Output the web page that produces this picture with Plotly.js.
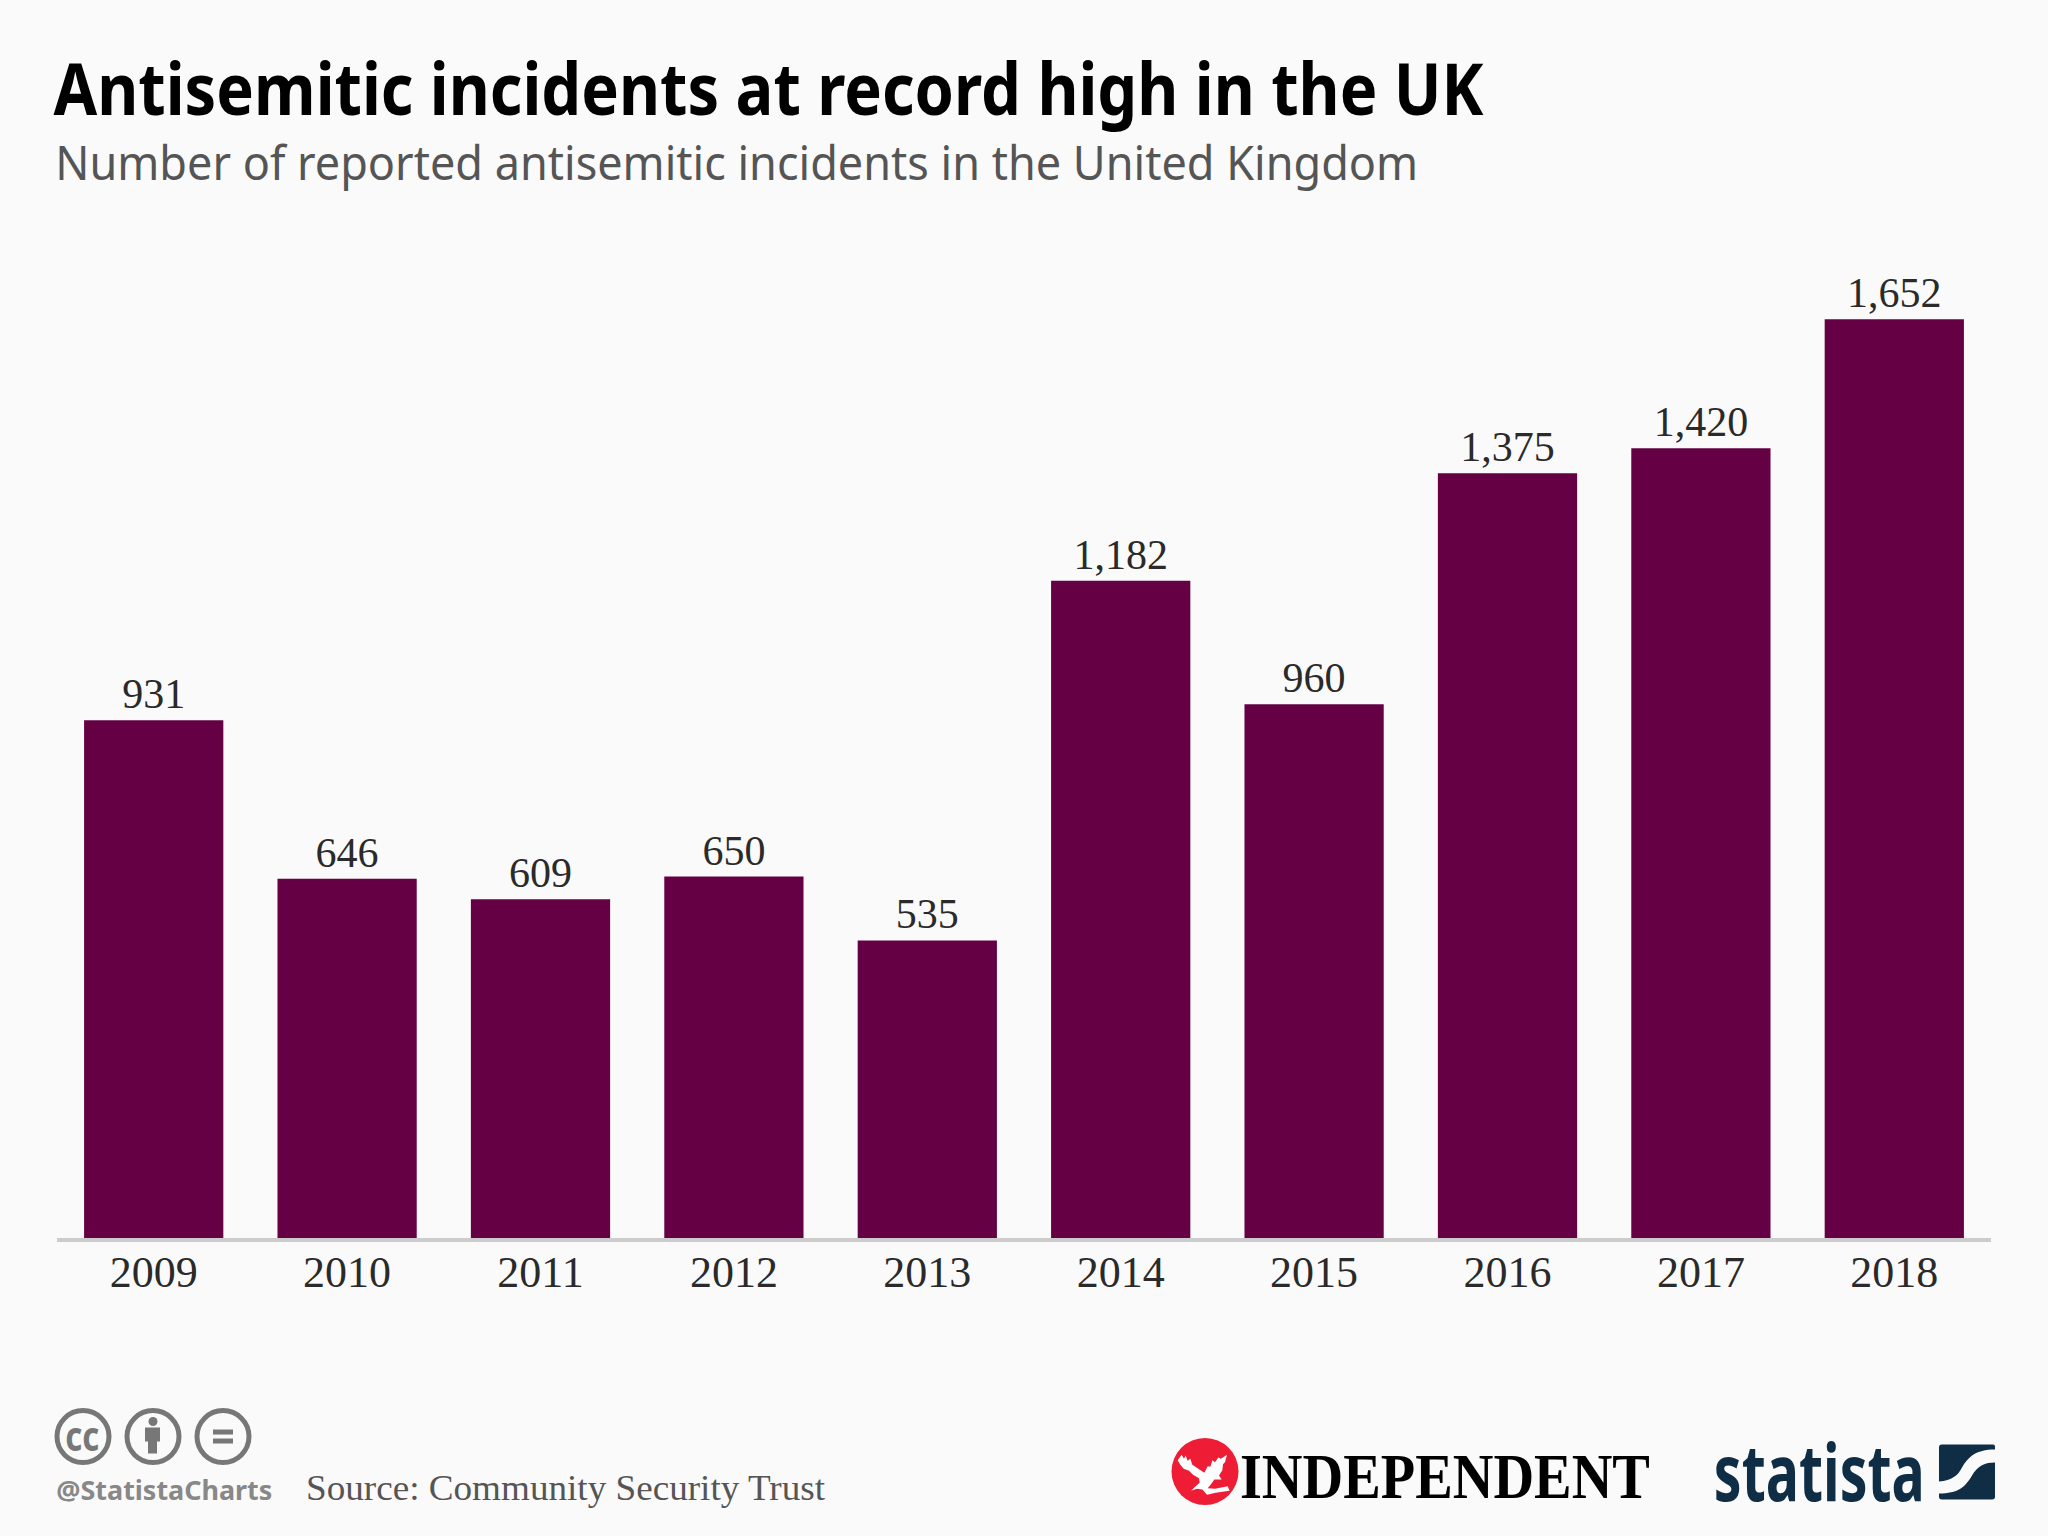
<!DOCTYPE html>
<html>
<head>
<meta charset="utf-8">
<script src="https://cdn.plot.ly/plotly-3.0.1.min.js"></script>
<style>html,body{margin:0;padding:0;background:#fafafa}</style>
</head>
<body>
<div id="chart" style="width:2048px;height:1536px"></div>
<script>
const years = ["2009","2010","2011","2012","2013","2014","2015","2016","2017","2018"];
const incidents = [931,646,609,650,535,1182,960,1375,1420,1652];
const titleText = "Antisemitic incidents at record high in the UK";
const subtitleText = "Number of reported antisemitic incidents in the United Kingdom";
const sourceText = "Source: Community Security Trust";

const L = 57, R = 57, T = 237, B = 297.6, W = 2048 - L - R, H = 1536 - T - B;
const px = x => (x - L) / W;
const py = y => (1536 - B - y) / H;
const serif = "Liberation Serif, serif";
const GREY = "#777777", NAVY = "#0f2d45";

// texts: [text, left, right, centre y, font size, family, weight, colour]
const texts = [
  [titleText, 54, 1484, 87, 71, "Noto Sans", 700, "#000000"],
  [subtitleText, 55, 1418, 161, 48, "Noto Sans", 400, "#555555"],
  ["@StatistaCharts", 56, 272, 1490, 27, "Noto Sans", 700, "#888888"],
  [sourceText, 306, 825, 1489, 35, serif, 400, "#555555"],
  ["INDEPENDENT", 1240, 1650, 1477, 64, serif, 700, "#000000"],
  ["statista", 1714, 1925, 1471, 78, "Noto Sans", 700, NAVY],
  ["cc", 65, 99, 1435, 41, "Noto Sans", 700, GREY]
];
const annotations = texts.map(t => ({
  text: t[0], xref: "paper", yref: "paper", x: px((t[1] + t[2]) / 2), y: py(t[3]),
  xanchor: "center", yanchor: "middle", showarrow: false,
  font: {family: t[5], size: t[4], weight: t[6], color: t[7]}
}));

const path = d => d.replace(/(-?[\d.]+) (-?[\d.]+)/g, (m, a, b) => px(+a).toFixed(5) + " " + py(+b).toFixed(5));
const circle = (cx, cy, r, extra) => Object.assign({
  type: "circle", xref: "paper", yref: "paper",
  x0: px(cx - r), x1: px(cx + r), y0: py(cy + r), y1: py(cy - r)
}, extra);
const solid = (d, color) => ({type: "path", xref: "paper", yref: "paper", path: path(d),
  fillcolor: color, line: {width: 0}, layer: "above"});
const ring = {fillcolor: "rgba(0,0,0,0)", line: {color: GREY, width: 5}, layer: "above"};

const eaglePoints = [[38,92],[50,76],[57,88],[62,78],[68,94],[76,88],[82,106],[100,118],[118,130],[128,110],[136,112],[142,92],[150,98],[160,84],[168,88],[186,76],[180,98],[174,104],[172,122],[162,138],[170,150],[158,150],[148,150],[138,164],[128,176],[150,178],[188,170],[194,184],[152,190],[126,196],[112,180],[96,178],[78,184],[92,170],[104,160],[102,146],[84,136],[72,124],[56,118],[46,106]];
const eagle = eaglePoints.map((p, i) => (i ? "L " : "M ") + (1165 + p[0] / 3) + " " + (1430 + p[1] / 3)).join(" ") + " Z";

const shapes = [
  circle(83, 1437, 26, ring), circle(153, 1437, 26, ring), circle(223, 1437, 26, ring),
  circle(153, 1422, 4.5, {fillcolor: GREY, line: {width: 0}, layer: "above"}),
  solid("M 145 1428 L 160 1428 L 160 1442 L 157 1442 L 157 1454 L 148 1454 L 148 1442 L 145 1442 Z", GREY),
  solid("M 213 1430 L 233 1430 L 233 1435 L 213 1435 Z", GREY),
  solid("M 213 1439 L 233 1439 L 233 1444 L 213 1444 Z", GREY),
  circle(1205, 1472, 33.5, {fillcolor: "#ee1c35", line: {width: 0}, layer: "above"}),
  solid(eagle, "#ffffff"),
  solid("M 1942 1445 L 1993 1445 Q 1995 1445 1995 1447 L 1995 1450 C 1975 1450 1968 1458 1962 1468 C 1958 1476 1952 1481 1939 1482 L 1939 1448 Q 1939 1445 1942 1445 Z", NAVY),
  solid("M 1995 1463 L 1995 1497 Q 1995 1500 1992 1500 L 1942 1500 Q 1939 1500 1939 1497 L 1939 1494 C 1958 1494 1965 1488 1972 1476 C 1978 1466 1985 1463 1995 1463 Z", NAVY)
];

const trace = {
  type: "bar", x: years, y: incidents,
  marker: {color: "#660044", line: {width: 0}},
  width: 0.72,
  text: incidents.map(v => v.toLocaleString("en-US")),
  textposition: "outside", cliponaxis: false, constraintext: "none",
  textfont: {family: serif, size: 42, color: "#2a2a2a"},
  hoverinfo: "x+y"
};

const layout = {
  width: 2048, height: 1536, showlegend: false,
  paper_bgcolor: "#fafafa", plot_bgcolor: "#fafafa",
  margin: {l: L, r: R, t: T, b: B, pad: 0},
  xaxis: {type: "category", range: [-0.5, 9.5], showgrid: false, ticks: "",
    showline: true, linecolor: "#cccccc", linewidth: 4,
    tickfont: {family: serif, size: 44, color: "#2a2a2a"}, ticklabelstandoff: -8},
  yaxis: {range: [0, 1800], visible: false, showgrid: false, zeroline: false, fixedrange: true},
  annotations, shapes
};

Plotly.newPlot("chart", [trace], layout, {displayModeBar: false, staticPlot: true}).then(gd => {
  // fit each text to the measured width of the reference, keeping it real text
  gd.querySelectorAll(".annotation").forEach(a => {
    const t = texts[+a.getAttribute("data-index")];
    const el = a.querySelector("text");
    if (el) {
      el.setAttribute("textLength", t[2] - t[1]);
      el.setAttribute("lengthAdjust", "spacingAndGlyphs");
    }
  });
});
</script>
</body>
</html>
